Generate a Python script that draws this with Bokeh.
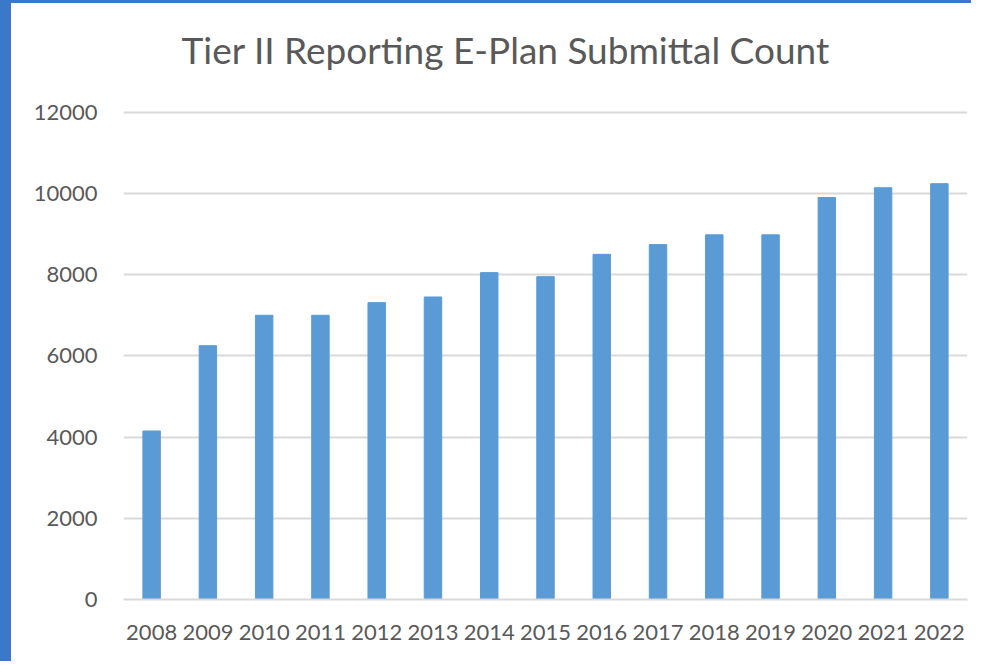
from bokeh.plotting import figure
from bokeh.models import Range1d, FactorRange, ColumnDataSource
from bokeh.core.properties import value
from bokeh.embed import file_html
from bokeh.resources import INLINE

years = ["2008", "2009", "2010", "2011", "2012", "2013", "2014", "2015",
         "2016", "2017", "2018", "2019", "2020", "2021", "2022"]
counts = [4150, 6250, 7000, 7000, 7310, 7450, 8050, 7950,
          8500, 8740, 8980, 8980, 9900, 10140, 10240]
y_ticks = [0, 2000, 4000, 6000, 8000, 10000, 12000]
title_text = "Tier II Reporting E-Plan Submittal Count"

source = ColumnDataSource(data=dict(years=years, counts=counts))

# frame extends to the top so the title can sit inside it; the extra
# headroom above 12000 is empty (grid lines are drawn only at the ticks)
p = figure(width=971, height=661, output_backend="svg", toolbar_location=None,
           x_range=FactorRange(*years, range_padding=0), y_range=Range1d(0, 14554),
           min_border_left=112, min_border_right=15, min_border_top=5, min_border_bottom=65)
p.styles = {"border-left": "11px solid #3B78C9", "border-top": "3px solid #3B78C9"}

p.vbar(x="years", top="counts", width=0.31, source=source,
       fill_color="#5B9BD5", line_color="#5B9BD5")

# chart title (synthetic categorical x, data y above the 12000 grid line)
p.text(x=[1.032], y=[13540], text=[title_text], text_font=value("Lato"),
       text_font_size="37px", text_color="#595959",
       text_align="left", text_baseline="alphabetic")

p.outline_line_color = None
p.background_fill_color = "white"
p.border_fill_color = "white"

p.xgrid.grid_line_color = None
p.ygrid.grid_line_color = "#D9D9D9"
p.ygrid.grid_line_width = 2
p.yaxis.ticker = y_ticks

p.yaxis.axis_line_color = None
p.yaxis.major_tick_line_color = None
p.yaxis.minor_tick_line_color = None
p.yaxis.major_label_standoff = 20
p.yaxis.major_label_text_font = "Lato"
p.yaxis.major_label_text_font_size = "22px"
p.yaxis.major_label_text_color = "#595959"

p.xaxis.axis_line_color = "#D9D9D9"
p.xaxis.axis_line_width = 2
p.xaxis.major_tick_line_color = None
p.xaxis.minor_tick_line_color = None
p.xaxis.major_label_standoff = 19
p.xaxis.major_label_text_font = "Lato"
p.xaxis.major_label_text_font_size = "22px"
p.xaxis.major_label_text_color = "#595959"

open("out.html", "w").write(file_html(p, INLINE))
